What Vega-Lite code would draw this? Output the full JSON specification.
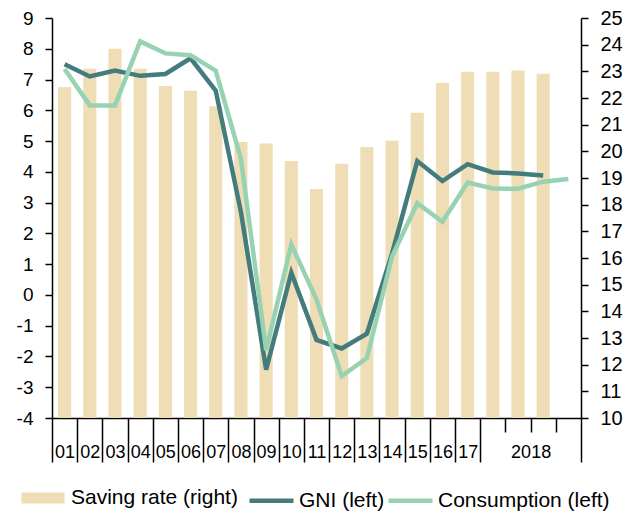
{
  "$schema": "https://vega.github.io/schema/vega-lite/v6.json",
  "autosize": {"type": "none"},
  "padding": {"left": 52, "top": 18, "right": 55, "bottom": 97},
  "width": 529,
  "height": 400,
  "background": "white",
  "config": {
    "view": {"stroke": null},
    "font": "Liberation Sans",
    "axis": {"labelFont": "Liberation Sans", "labelColor": "#000", "domainColor": "#000", "tickColor": "#000", "domainWidth": 1.5, "tickWidth": 1.5, "grid": false, "title": null},
    "legend": {"labelFont": "Liberation Sans", "labelColor": "#000", "labelLimit": 400}
  },
  "datasets": {
    "bars": [
      {"period": "01", "series": "Saving rate (right)", "value": 22.4},
      {"period": "02", "series": "Saving rate (right)", "value": 23.1},
      {"period": "03", "series": "Saving rate (right)", "value": 23.85},
      {"period": "04", "series": "Saving rate (right)", "value": 23.1},
      {"period": "05", "series": "Saving rate (right)", "value": 22.45},
      {"period": "06", "series": "Saving rate (right)", "value": 22.27},
      {"period": "07", "series": "Saving rate (right)", "value": 21.69},
      {"period": "08", "series": "Saving rate (right)", "value": 20.35},
      {"period": "09", "series": "Saving rate (right)", "value": 20.29},
      {"period": "10", "series": "Saving rate (right)", "value": 19.64},
      {"period": "11", "series": "Saving rate (right)", "value": 18.59},
      {"period": "12", "series": "Saving rate (right)", "value": 19.53},
      {"period": "13", "series": "Saving rate (right)", "value": 20.16},
      {"period": "14", "series": "Saving rate (right)", "value": 20.4},
      {"period": "15", "series": "Saving rate (right)", "value": 21.45},
      {"period": "16", "series": "Saving rate (right)", "value": 22.56},
      {"period": "17", "series": "Saving rate (right)", "value": 22.98},
      {"period": "2018Q1", "series": "Saving rate (right)", "value": 22.98},
      {"period": "2018Q2", "series": "Saving rate (right)", "value": 23.03},
      {"period": "2018Q3", "series": "Saving rate (right)", "value": 22.91}
    ],
    "lines": [
      {"period": "01", "series": "GNI (left)", "value": 7.5},
      {"period": "02", "series": "GNI (left)", "value": 7.1},
      {"period": "03", "series": "GNI (left)", "value": 7.29},
      {"period": "04", "series": "GNI (left)", "value": 7.12},
      {"period": "05", "series": "GNI (left)", "value": 7.18},
      {"period": "06", "series": "GNI (left)", "value": 7.69},
      {"period": "07", "series": "GNI (left)", "value": 6.64},
      {"period": "08", "series": "GNI (left)", "value": 2.7},
      {"period": "09", "series": "GNI (left)", "value": -2.43},
      {"period": "10", "series": "GNI (left)", "value": 0.72},
      {"period": "11", "series": "GNI (left)", "value": -1.46},
      {"period": "12", "series": "GNI (left)", "value": -1.74},
      {"period": "13", "series": "GNI (left)", "value": -1.26},
      {"period": "14", "series": "GNI (left)", "value": 1.35},
      {"period": "15", "series": "GNI (left)", "value": 4.35},
      {"period": "16", "series": "GNI (left)", "value": 3.7},
      {"period": "17", "series": "GNI (left)", "value": 4.25},
      {"period": "2018Q1", "series": "GNI (left)", "value": 3.98},
      {"period": "2018Q2", "series": "GNI (left)", "value": 3.95},
      {"period": "2018Q3", "series": "GNI (left)", "value": 3.88},
      {"period": "01", "series": "Consumption (left)", "value": 7.34},
      {"period": "02", "series": "Consumption (left)", "value": 6.16},
      {"period": "03", "series": "Consumption (left)", "value": 6.16},
      {"period": "04", "series": "Consumption (left)", "value": 8.24},
      {"period": "05", "series": "Consumption (left)", "value": 7.85},
      {"period": "06", "series": "Consumption (left)", "value": 7.79},
      {"period": "07", "series": "Consumption (left)", "value": 7.29},
      {"period": "08", "series": "Consumption (left)", "value": 4.43},
      {"period": "09", "series": "Consumption (left)", "value": -1.8},
      {"period": "10", "series": "Consumption (left)", "value": 1.64},
      {"period": "11", "series": "Consumption (left)", "value": -0.15},
      {"period": "12", "series": "Consumption (left)", "value": -2.64},
      {"period": "13", "series": "Consumption (left)", "value": -2.05},
      {"period": "14", "series": "Consumption (left)", "value": 1.25},
      {"period": "15", "series": "Consumption (left)", "value": 2.98},
      {"period": "16", "series": "Consumption (left)", "value": 2.38},
      {"period": "17", "series": "Consumption (left)", "value": 3.65},
      {"period": "2018Q1", "series": "Consumption (left)", "value": 3.46},
      {"period": "2018Q2", "series": "Consumption (left)", "value": 3.45},
      {"period": "2018Q3", "series": "Consumption (left)", "value": 3.68},
      {"period": "2018Q4", "series": "Consumption (left)", "value": 3.77}
    ]
  },
  "encoding": {
    "x": {
      "field": "period",
      "type": "ordinal",
      "scale": {
        "domain": ["01","02","03","04","05","06","07","08","09","10","11","12","13","14","15","16","17","2018Q1","2018Q2","2018Q3","2018Q4"],
        "paddingInner": 0,
        "paddingOuter": 0
      },
      "axis": {
        "title": null,
        "tickBand": "extent",
        "tickSize": 44,
        "tickDash": {"condition": {"test": "datum.value === '2018Q1' || datum.value === '2018Q2' || datum.value === '2018Q3'", "value": [14, 60]}, "value": []},
        "labelExpr": "datum.value === '2018Q2' ? '2018' : ((datum.value === '2018Q1' || datum.value === '2018Q3' || datum.value === '2018Q4') ? '' : datum.label)",
        "labelOffset": {"condition": {"test": "datum.value === '2018Q2'", "value": 12.6}, "value": 0},
        "labelPadding": -19,
        "labelAngle": 0,
        "labelOverlap": false,
        "labelBound": false,
        "labelFlush": false,
        "labelFontSize": 18
      }
    }
  },
  "layer": [
    {
      "data": {"name": "bars"},
      "mark": {"type": "bar", "width": {"band": 0.52}},
      "encoding": {
        "y": {
          "field": "value",
          "type": "quantitative",
          "scale": {"domain": [10, 25], "nice": false, "zero": false},
          "axis": {"orient": "right", "values": [10,11,12,13,14,15,16,17,18,19,20,21,22,23,24,25], "tickSize": 7, "labelPadding": 12, "labelFontSize": 20}
        },
        "y2": {"datum": 10},
        "fill": {
          "field": "series",
          "type": "nominal",
          "scale": {"domain": ["Saving rate (right)"], "range": ["#EEDDB5"]},
          "legend": {
            "orient": "none",
            "legendX": -31,
            "legendY": 458,
            "direction": "horizontal",
            "title": null,
            "symbolType": "M-1,-0.26H1V0.26H-1Z",
            "symbolSize": 1850,
            "symbolStrokeWidth": 0,
            "labelFontSize": 21,
            "labelOffset": 6
          }
        }
      }
    },
    {
      "data": {"name": "lines"},
      "mark": {"type": "line", "strokeWidth": 4.5},
      "encoding": {
        "y": {
          "field": "value",
          "type": "quantitative",
          "scale": {"domain": [-4, 9], "nice": false, "zero": false},
          "axis": {"orient": "left", "values": [-4,-3,-2,-1,0,1,2,3,4,5,6,7,8,9], "tickSize": 7, "labelPadding": 12, "labelFontSize": 19, "labelExpr": "'' + datum.value"}
        },
        "stroke": {
          "field": "series",
          "type": "nominal",
          "sort": ["GNI (left)", "Consumption (left)"],
          "scale": {"domain": ["GNI (left)", "Consumption (left)"], "range": ["#447B7C", "#97D2B3"]},
          "legend": {
            "orient": "none",
            "legendX": 195,
            "legendY": 458,
            "direction": "horizontal",
            "title": null,
            "symbolType": "stroke",
            "symbolSize": 1936,
            "symbolStrokeWidth": 4.5,
            "labelFontSize": 21,
            "labelOffset": 3,
            "columnPadding": -6
          }
        }
      }
    }
  ],
  "resolve": {"scale": {"y": "independent"}}
}
